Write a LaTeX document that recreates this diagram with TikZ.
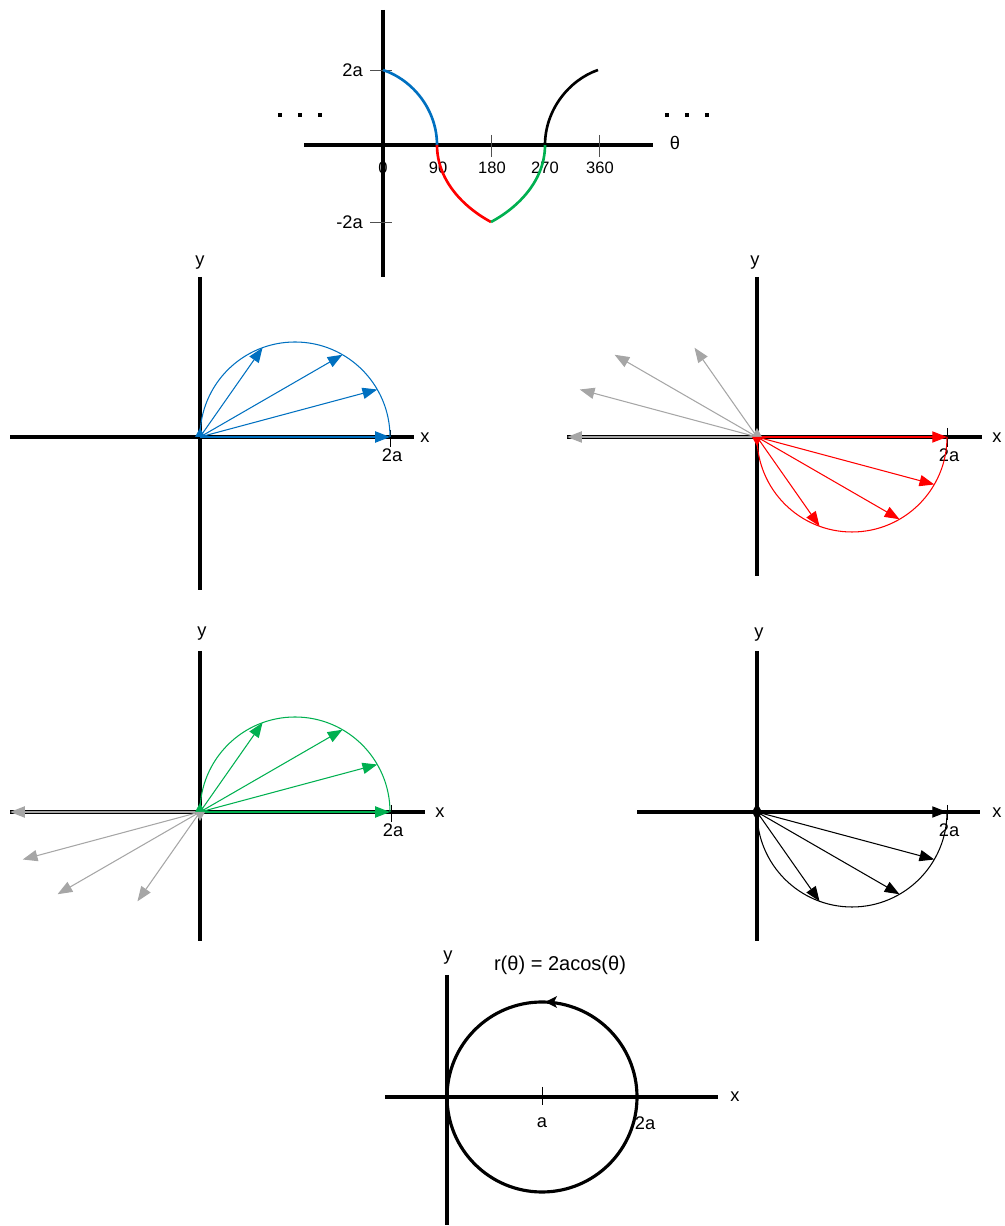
\documentclass[tikz,border=0pt]{standalone}
\usepackage{fontspec}
\setmainfont{Liberation Sans}
\usetikzlibrary{arrows.meta}
\usepackage{xcolor}
\definecolor{vecblue}{RGB}{0,112,192}
\definecolor{vecred}{RGB}{255,0,0}
\definecolor{vecgreen}{RGB}{0,176,80}
\definecolor{vecgray}{RGB}{166,166,166}
\definecolor{tickgray}{RGB}{80,80,80}

\begin{document}
\begin{tikzpicture}[x=0.02cm, y=0.02cm, font=\fontsize{10.4}{12}\selectfont,
  axis/.style={line width=1.8pt},
  vec/.style={line width=0.6pt, -{Triangle[length=8.4pt,width=6.4pt]}},
  tickline/.style={line width=0.5pt, draw=tickgray},
  thetacurve/.style={line width=1.5pt},
  halfcircle/.style={line width=0.6pt},
  ticknum/.style={font=\fontsize{9.4}{11}\selectfont}]
\useasboundingbox (0,0) rectangle (1004,1226);

% r against theta
\begin{scope}[shift={(383,1081)}]
\draw[axis] (-79,0) -- (270,0);
\draw[axis] (0,135) -- (0,-132);
\draw[tickline] (-13,75) -- (9,75);
\draw[tickline] (-13,-77) -- (9,-77);
\draw[tickline] (108,10) -- (108,-12);
\draw[tickline] (216,10) -- (216,-12);
\node[anchor=east] (lblTop) at (-14,75) {2a};
\node[anchor=east] (lblBot) at (-14,-77) {-2a};
\node[ticknum] (deg0) at (0,-23) {0};
\node[ticknum] (deg90) at (55,-23) {90};
\node[ticknum] (deg180) at (109,-23) {180};
\node[ticknum] (deg270) at (162,-23) {270};
\node[ticknum] (deg360) at (217,-23) {360};
\node (theta) at (292,2) {θ};
\draw[thetacurve, vecblue] (0,75) .. controls (30,65) and (54,35) .. (54,0);
\draw[thetacurve, vecred] (54,0) .. controls (54,-35) and (80,-62) .. (108,-77);
\draw[thetacurve, vecgreen] (108,-77) .. controls (136,-62) and (162,-35) .. (162,0);
\draw[thetacurve] (162,0) .. controls (162,35) and (186,65) .. (215,75);
\fill (-105,28) rectangle (-101,32);
\fill (-85,28) rectangle (-81,32);
\fill (-65,28) rectangle (-61,32);
\fill (282,28) rectangle (286,32);
\fill (302,28) rectangle (306,32);
\fill (322,28) rectangle (326,32);
\end{scope}

% 0 to 90
\begin{scope}[shift={(200,789)}]
\draw[axis] (-190,0) -- (214,0);
\draw[axis] (0,160) -- (0,-153);
\draw[tickline, draw=black] (190,7) -- (190,-10);
\node (xA) at (225,-1) {x};
\node (yA) at (0,174) {y};
\node (rA) at (192,-18) {2a};
\draw[halfcircle, vecblue] (0,0) arc[start angle=180, end angle=0, radius=95];
\draw[vec, vecblue] (0,0) -- (0:190);
\draw[vec, vecblue] (0,0) -- (15:183.5);
\draw[vec, vecblue] (0,0) -- (30:164.5);
\draw[vec, vecblue] (0,0) -- (55:109);
\fill[vecblue] (-5,0) -- (5,0) -- (0,9) -- cycle;
\end{scope}

% 90 to 180
\begin{scope}[shift={(757,789)}]
\draw[axis] (-190,0) -- (225,0);
\draw[axis] (0,160) -- (0,-139);
\draw[tickline, draw=black] (190,9) -- (190,-10);
\node (xB) at (240,-1) {x};
\node (yB) at (-2,174) {y};
\node (rB) at (192,-18) {2a};
\draw[vec, vecgray] (0,0) -- (180:190);
\draw[vec, vecgray] (0,0) -- (165:183.5);
\draw[vec, vecgray] (0,0) -- (150:164.5);
\draw[vec, vecgray] (0,0) -- (125:109);
\draw[halfcircle, vecred] (0,0) arc[start angle=180, end angle=360, radius=95];
\draw[vec, vecred] (0,0) -- (0:190);
\draw[vec, vecred] (0,0) -- (-15:183.5);
\draw[vec, vecred] (0,0) -- (-30:164.5);
\draw[vec, vecred] (0,0) -- (-55:109);
\fill[vecgray] (-5,0) -- (5,0) -- (0,9) -- cycle;
\fill[vecred] (-5,0) -- (5,0) -- (0,-9) -- cycle;
\end{scope}

% 180 to 270
\begin{scope}[shift={(200,414)}]
\draw[axis] (-190,0) -- (225,0);
\draw[axis] (0,161) -- (0,-129);
\draw[tickline, draw=black] (191,7) -- (191,-10);
\node (xC) at (240,-1) {x};
\node (yC) at (2,178) {y};
\node (rC) at (193,-18) {2a};
\draw[vec, vecgray] (0,0) -- (180:190);
\draw[vec, vecgray] (0,0) -- (195:183.5);
\draw[vec, vecgray] (0,0) -- (210:164.5);
\draw[vec, vecgray] (0,0) -- (235:109);
\draw[halfcircle, vecgreen] (0,0) arc[start angle=180, end angle=0, radius=95];
\draw[vec, vecgreen] (0,0) -- (0:190);
\draw[vec, vecgreen] (0,0) -- (15:183.5);
\draw[vec, vecgreen] (0,0) -- (30:164.5);
\draw[vec, vecgreen] (0,0) -- (55:109);
\fill[vecgreen] (-5,0) -- (5,0) -- (0,9) -- cycle;
\fill[vecgray] (-5,0) -- (5,0) -- (0,-9) -- cycle;
\end{scope}

% 270 to 360
\begin{scope}[shift={(757,414)}]
\draw[axis] (-120,0) -- (223,0);
\draw[axis] (0,161) -- (0,-129);
\draw[tickline, draw=black] (190,7) -- (190,-8);
\node (xD) at (240,-1) {x};
\node (yD) at (2,177) {y};
\node (rD) at (192,-18) {2a};
\draw[halfcircle] (0,0) arc[start angle=180, end angle=360, radius=95];
\draw[vec] (0,0) -- (0:190);
\draw[vec] (0,0) -- (-15:183.5);
\draw[vec] (0,0) -- (-30:164.5);
\draw[vec] (0,0) -- (-55:109);
\fill (-5,0) -- (5,0) -- (0,9) -- cycle;
\fill (-5,0) -- (5,0) -- (0,-9) -- cycle;
\end{scope}

% whole circle
\begin{scope}[shift={(447,129)}]
\draw[axis] (-62,0) -- (271,0);
\draw[axis] (0,122) -- (0,-128);
\draw[tickline, draw=black] (95,10) -- (95,-8);
\node (xE) at (288,0) {x};
\node (yE) at (1,139) {y};
\node (aE) at (95,-26) {a};
\node (rE) at (198,-26) {2a};
\node[font=\fontsize{11.4}{13}\selectfont] (title) at (113,132) {r(θ) = 2acos(θ)};
\draw[axis] (95,0) circle[radius=95];
\fill (98,95) -- (110,101) -- (107,95) -- (110,89) -- cycle;
\end{scope}
\end{tikzpicture}
\end{document}
